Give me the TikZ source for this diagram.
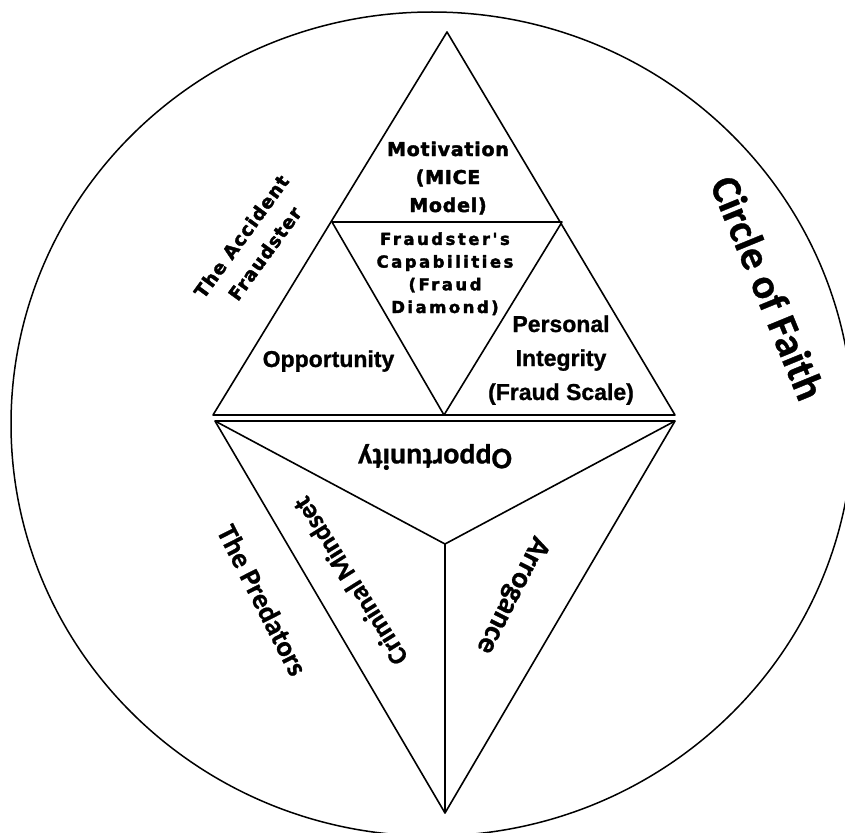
\documentclass[tikz,border=0pt]{standalone}
\usepackage{fontspec}
\newfontfamily\motFont{DejaVu Sans Bold}[LetterSpace=4,FakeBold=2.2]
\newfontfamily\capFont{DejaVu Sans Bold}[LetterSpace=15,FakeBold=2.2,Ligatures=TeXOff]
\newfontfamily\accFont{DejaVu Sans Bold}[LetterSpace=6,FakeBold=2.2]
\newfontfamily\arFont{Liberation Sans Bold}[FakeBold=1]
\newfontfamily\calFont{Carlito Bold}[FakeBold=0.8]
\begin{document}
\begin{tikzpicture}[x=1pt,y=-1pt,line join=round,
  edge/.style={line width=1.6pt,black},
  ring/.style={line width=1.5pt,black},
  lbl/.style={inner sep=0pt,align=center,text=black},
  motlbl/.style={lbl,font=\motFont\fontsize{19}{28}\selectfont},
  caplbl/.style={lbl,font=\capFont\fontsize{16.5}{22.7}\selectfont},
  arlbl/.style={lbl,font=\arFont\fontsize{23}{34}\selectfont},
  acclbl/.style={lbl,font=\accFont\fontsize{18.5}{29}\selectfont},
  callbl/.style={lbl,font=\calFont\fontsize{#1}{#1}\selectfont}]
\useasboundingbox (0,0) rectangle (845,832);
\fill[white] (0,0) rectangle (845,832);
% outer ring
\draw[ring] (432,424) ellipse [x radius=421pt, y radius=412pt];
% upper triangle
\coordinate (ua) at (447,32);
\coordinate (ul) at (213,415);
\coordinate (ur) at (675,415);
\coordinate (ml) at (332,222);
\coordinate (mr) at (562,222);
\coordinate (mb) at (444,415);
\draw[edge] (ua) -- (ur) -- (ul) -- cycle;
\draw[edge] (ml) -- (mr) -- (mb) -- cycle;
% lower triangle
\coordinate (ll) at (215,421);
\coordinate (lr) at (675,421);
\coordinate (lb) at (445,813);
\coordinate (lc) at (445,544);
\draw[edge] (ll) -- (lr) -- (lb) -- cycle;
\draw[edge] (ll) -- (lc) -- (lr);
\draw[edge] (lc) -- (lb);
% labels upper (anchor=base is the baseline of the last line)
\node[motlbl,anchor=base] (mot) at (448,212) {Motivation\\(MICE\\Model)};
\node[caplbl,anchor=base] (cap) at (445,313) {Fraudster's\\Capabilities\\(Fraud\\Diamond)};
\node[arlbl,anchor=base] (opp1) at (328.5,367) {Opportunity};
\node[arlbl,anchor=base] (pers) at (561,400) {Personal\\Integrity\\(Fraud Scale)};
% labels lower
\node[callbl=30,rotate=180] (opp2) at (435,457) {Opportunity};
\node[callbl=27,rotate=122] (crim) at (350,581) {Criminal Mindset};
\node[callbl=30,rotate=243] (arro) at (512,595) {Arrogance};
\node[callbl=28.5,rotate=-63] (pred) at (262.5,600) {The Predators};
% outer labels
\node[acclbl,rotate=54] (acc) at (253,245) {The Accident\\Fraudster};
\node[callbl=42,rotate=-67.7] (faith) at (768,288) {Circle of Faith};
\end{tikzpicture}
\end{document}
